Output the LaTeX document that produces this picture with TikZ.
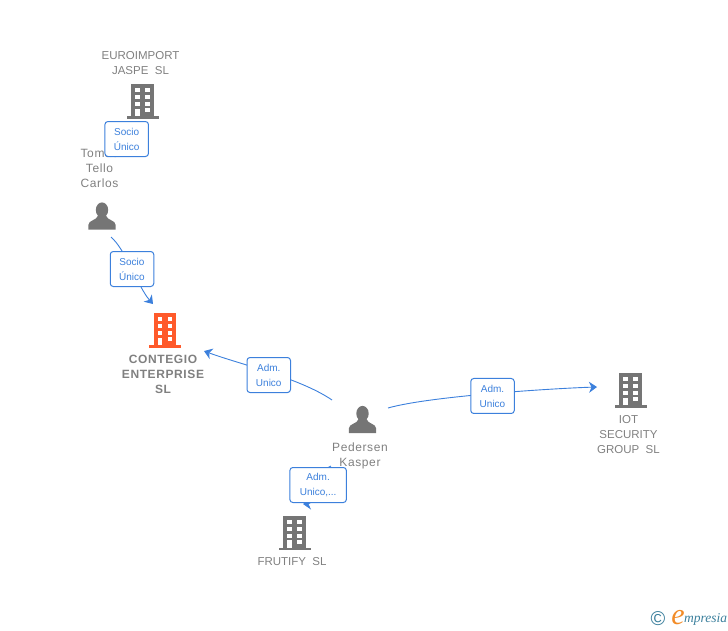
\documentclass[tikz,border=0pt]{standalone}
\usepackage{fontspec}
\setmainfont{Liberation Sans}
\newfontfamily\logofont{Liberation Serif}
\usetikzlibrary{arrows.meta}

\definecolor{icongray}{HTML}{757575}
\definecolor{textgray}{HTML}{808080}
\definecolor{linkblue}{HTML}{3C80DC}
\definecolor{logoteal}{HTML}{3B7F9C}
\definecolor{logoorange}{HTML}{F28C28}
\definecolor{mainorange}{HTML}{FF5A2B}

\tikzset{
    buildingnode/.style = {minimum width=32pt, minimum height=34pt, inner sep=0pt},
    personnode/.style = {minimum width=27pt, minimum height=27pt, inner sep=0pt},
    companylabel/.style = {text=textgray, align=center, inner sep=0pt, font=\fontsize{11.5}{15}\selectfont},
    mainlabel/.style = {companylabel, font=\fontsize{12}{15}\selectfont\bfseries\addfontfeatures{LetterSpace=5}},
    personlabel/.style = {companylabel, font=\fontsize{12}{15}\selectfont\addfontfeatures{LetterSpace=5}},
    linkbox/.style = {draw=linkblue, fill=white, line width=1pt, rounded corners=3pt,
        text=linkblue, align=center, inner sep=0pt, minimum width=43.5pt, minimum height=35pt,
        font=\fontsize{10}{15}\selectfont},
    link/.style = {draw=linkblue, line width=0.9pt,
        -{Stealth[length=8pt,width=11pt,inset=2.5pt]}},
    building/.pic = {
        \fill[pic actions] (-11.3,-17) rectangle (11.3,15);
        \fill[pic actions] (-16,15) rectangle (16,17.5);
        \foreach \y in {-11,-4,3} {
            \fill[white] (-7.3,\y-2) rectangle (-2.7,\y+2);
            \fill[white] (2.7,\y-2) rectangle (7.3,\y+2);
        }
        \fill[white] (2.7,7) rectangle (7.3,11);
        \fill[white] (-7.3,7.5) rectangle (-2.7,15);
    },
    person/.pic = {
        \fill[icongray] (0,-6.5) ellipse (6.2 and 7.6);
        \fill[icongray] (-13.7,13) -- (-13.7,8.5) .. controls (-13.7,3.5) and (-5,4) .. (-4,-1)
            -- (4,-1) .. controls (5,4) and (13.7,3.5) .. (13.7,8.5) -- (13.7,13) -- cycle;
    }
}

\begin{document}
\begin{tikzpicture}[x=1pt, y=-1pt]

    \useasboundingbox (0,0) rectangle (728,630);

    \node[buildingnode] (euroimport) at (142.7,101) {};
    \node[personnode]   (tomas)      at (102,216.5) {};
    \node[buildingnode] (contegio)   at (165,330) {};
    \node[personnode]   (pedersen)   at (362.5,420) {};
    \node[buildingnode] (iot)        at (630.5,390) {};
    \node[buildingnode] (frutify)    at (294.5,532.7) {};

    \pic[icongray]   at (euroimport) {building};
    \pic             at (tomas)      {person};
    \pic[mainorange] at (contegio)   {building};
    \pic             at (pedersen)   {person};
    \pic[icongray]   at (iot)        {building};
    \pic[icongray]   at (frutify)    {building};

    \node[companylabel] (euroimportname) at (140.5,63.5) {EUROIMPORT\\JASPE\ \ SL};
    \node[personlabel]  (tomasname)      at (99.5,168.5) {Tomas\\Tello\\Carlos};
    \node[mainlabel]    (contegioname)   at (163,374) {CONTEGIO\\ENTERPRISE\\SL};
    \node[personlabel]  (pedersenname)   at (360,456) {Pedersen\\Kasper};
    \node[companylabel] (iotname)        at (628.5,435) {IOT\\SECURITY\\GROUP\ \ SL};
    \node[companylabel] (frutifyname)    at (292,562) {FRUTIFY\ \ SL};

    \node[linkbox] (euroimportbox) at (126.7,139) {Socio\\Único};
    \coordinate (kasperend) at (331,466);

    \draw[link] ([shift={(9,20.5)}]tomas.center) .. controls (126,250) and (138,287)
        .. node[linkbox] (tomasbox) {Socio\\Único} ([shift={(-12,-26)}]contegio.center);
    \draw[link] ([shift={(-30.5,-20)}]pedersen.center) .. controls (300,378) and (238,363.7)
        .. node[linkbox, yshift=-3pt] (contegiobox) {Adm.\\Unico} ([shift={(39,21)}]contegio.center);
    \draw[link] ([shift={(25.5,-12)}]pedersen.center) .. controls (430,396) and (555,388.3)
        .. node[linkbox, yshift=-2.5pt] (iotbox) {Adm.\\Unico} ([shift={(-33.5,-3)}]iot.center);
    \draw[link] (kasperend) .. controls (322,466) and (315,504)
        .. node[linkbox, minimum width=56.5pt] (frutifybox) {Adm.\\Unico,...} ([shift={(8.5,-28.7)}]frutify.center);

    \node[text=logoteal, inner sep=0pt, font=\fontsize{20}{20}\selectfont] (logoc) at (658,619) {©};
    \node[text=logoorange, inner sep=0pt, font=\logofont\itshape\fontsize{30}{30}\selectfont] (logoe) at (678,618) {e};
    \node[text=logoteal, inner sep=0pt, anchor=west, font=\logofont\itshape\fontsize{13.5}{14}\selectfont] (logotext) at (684,619.5) {mpresia};

\end{tikzpicture}
\end{document}
